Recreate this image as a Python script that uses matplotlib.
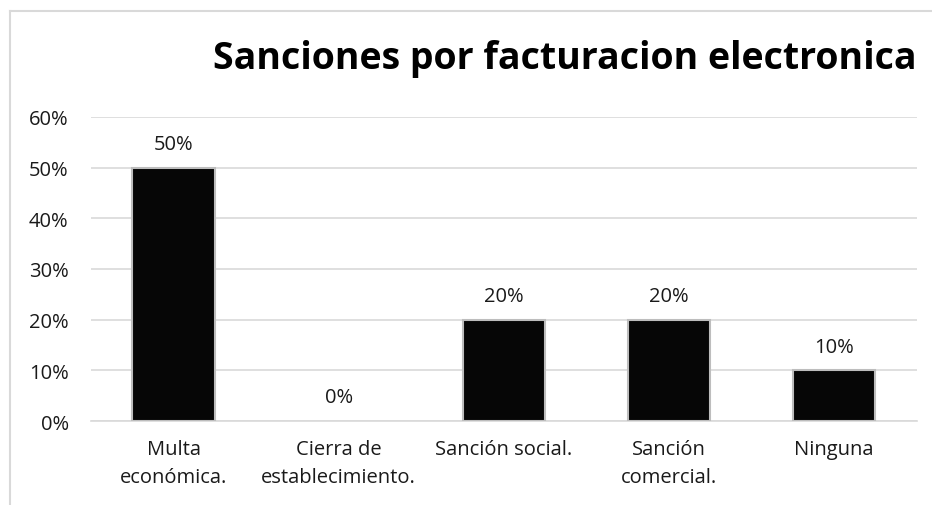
import matplotlib.pyplot as plt
from matplotlib.lines import Line2D
from matplotlib.ticker import PercentFormatter

plt.rcParams['font.family'] = ['Open Sans', 'DejaVu Sans']

categorias = ['Multa\neconómica.', 'Cierra de\nestablecimiento.', 'Sanción social.',
              'Sanción\ncomercial.', 'Ninguna']
valores = [50, 0, 20, 20, 10]

fig = plt.figure(figsize=(9.32, 5.06), dpi=100)
ax = fig.add_axes([0.0976, 0.166, 0.886, 0.601])

x = range(len(categorias))
bordes = ['#bdbdbd' if v > 0 else 'none' for v in valores]
ax.bar(x, valores, width=0.5, color='#060606', edgecolor=bordes,
       linewidth=1.5, zorder=3)

for xi, v in zip(x, valores):
    ax.annotate(f'{v}%', (xi, v), xytext=(0, 17), textcoords='offset points',
                ha='center', va='center', fontsize=14.5, color='#1a1a1a')

ax.set_ylim(0, 60)
ax.set_xlim(-0.5, len(categorias) - 0.5)
ax.set_yticks(range(0, 61, 10))
ax.yaxis.set_major_formatter(PercentFormatter(decimals=0))
ax.grid(axis='y', color='#d9d9d9', linewidth=1.2, zorder=0)
ax.set_xticks(list(x))
ax.set_xticklabels(categorias, fontsize=14.5, color='#1a1a1a', linespacing=1.55)
ax.tick_params(axis='y', labelsize=14.5, colors='#1a1a1a', length=0, pad=16)
ax.tick_params(axis='x', length=0, pad=13)
for s in ['top', 'right', 'left']:
    ax.spines[s].set_visible(False)
ax.spines['bottom'].set_color('#d9d9d9')
ax.spines['bottom'].set_linewidth(1.2)

fig.text(565 / 932, 1 - 59 / 506, 'Sanciones por facturacion electronica',
         ha='center', va='center', fontsize=27, fontweight='bold', color='black')

# marco del gráfico (recortado)
fig.add_artist(Line2D([10 / 932, 1], [1 - 12 / 506, 1 - 12 / 506],
                      transform=fig.transFigure, color='#d9d9d9', linewidth=1.5))
fig.add_artist(Line2D([10 / 932, 10 / 932], [0, 1 - 12 / 506],
                      transform=fig.transFigure, color='#d9d9d9', linewidth=1.5))

fig.savefig('out.png', dpi=100)
